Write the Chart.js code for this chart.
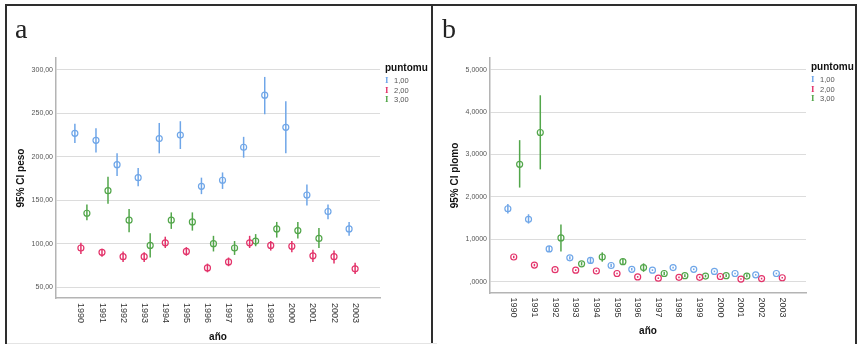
<!DOCTYPE html>
<html>
<head>
<meta charset="utf-8">
<script src="https://cdn.jsdelivr.net/npm/chart.js@4.4.1/dist/chart.umd.min.js"></script>
<style>
body { margin: 0; width: 859px; height: 344px; background: #fff; position: relative; overflow: hidden; font-family: "Liberation Sans", Arial, sans-serif; }
canvas { position: absolute; top: 0; }
#chartA { left: 0; }
#chartB { left: 433px; }
.line { position: absolute; background: #2e2e2e; }
.tag { position: absolute; font-family: "Liberation Serif", serif; font-size: 28px; color: #222; line-height: 28px; }
.legend { position: absolute; font-size: 7.5px; color: #555; }
.legend .head { font-size: 10px; font-weight: bold; color: #111; line-height: 12px; margin-bottom: 2px; }
.legend .item { line-height: 9.7px; padding-left: 9px; position: relative; }
.legend .item b { position: absolute; left: 0; font-family: "Liberation Serif", serif; font-size: 9px; font-weight: bold; }
</style>
</head>
<body>
<canvas id="chartA" width="431" height="344"></canvas>
<canvas id="chartB" width="422" height="344"></canvas>

<div class="line" style="left:5px;top:4px;width:852px;height:2px"></div>
<div class="line" style="left:5px;top:4px;width:2px;height:340px"></div>
<div class="line" style="left:431px;top:4px;width:2px;height:340px"></div>
<div class="line" style="left:855px;top:4px;width:2px;height:340px"></div>
<div class="line" style="left:7px;top:343px;width:430px;height:1px;background:#e4e4e4"></div>

<div class="tag" style="left:15px;top:15px">a</div>
<div class="tag" style="left:442px;top:15px">b</div>

<div class="legend" style="left:385px;top:62px">
  <div class="head">puntomu</div>
  <div class="item"><b style="color:#6fa6e8">I</b>1,00</div>
  <div class="item"><b style="color:#e3336a">I</b>2,00</div>
  <div class="item"><b style="color:#52a64a">I</b>3,00</div>
</div>
<div class="legend" style="left:811px;top:61px">
  <div class="head">puntomu</div>
  <div class="item"><b style="color:#6fa6e8">I</b>1,00</div>
  <div class="item"><b style="color:#e3336a">I</b>2,00</div>
  <div class="item"><b style="color:#52a64a">I</b>3,00</div>
</div>

<script>
// años
var years = [1990, 1991, 1992, 1993, 1994, 1995, 1996, 1997, 1998, 1999, 2000, 2001, 2002, 2003];
var groups = ["1,00", "2,00", "3,00"];
var colors = ["#6fa6e8", "#e3336a", "#52a64a"];

// panel a - peso (media e IC 95%)
var pesoMean1 = [227, 219, 191, 176, 221, 225, 166, 173, 211, 271, 234, 156, 137, 117];
var pesoLow1  = [216, 205, 178, 166, 204, 209, 157, 163, 199, 249, 204, 144, 128, 109];
var pesoHigh1 = [238, 233, 204, 187, 239, 241, 176, 182, 223, 292, 264, 168, 145, 125];
var pesoMean2 = [95, 90, 85, 85, 101, 91, 72, 79, 101, 98, 97, 86, 85, 71];
var pesoLow2  = [88, 85, 79, 79, 95, 86, 67, 74, 95, 92, 90, 79, 77, 65];
var pesoHigh2 = [101, 94, 91, 90, 108, 96, 77, 84, 109, 103, 103, 93, 92, 78];
var pesoMean3 = [135, 161, 127, 98, 127, 125, 100, 95, 103, 117, 115, 106, null, null];
var pesoLow3  = [127, 146, 113, 84, 117, 115, 91, 87, 97, 107, 106, 95, null, null];
var pesoHigh3 = [145, 177, 140, 112, 136, 136, 109, 103, 111, 125, 125, 118, null, null];
var pesoTicks = [50, 100, 150, 200, 250, 300];

// panel b - plomo
var plomoMean1 = [1.72, 1.47, 0.77, 0.56, 0.50, 0.38, 0.29, 0.27, 0.33, 0.29, 0.24, 0.19, 0.16, 0.19];
var plomoLow1  = [1.61, 1.37, 0.70, 0.52, 0.43, 0.34, 0.26, 0.25, 0.31, 0.27, 0.22, 0.17, 0.14, 0.17];
var plomoHigh1 = [1.83, 1.59, 0.84, 0.60, 0.58, 0.42, 0.32, 0.29, 0.35, 0.31, 0.26, 0.21, 0.18, 0.21];
var plomoMean2 = [0.58, 0.39, 0.28, 0.27, 0.25, 0.19, 0.11, 0.08, 0.10, 0.10, 0.12, 0.06, 0.07, 0.09];
var plomoLow2  = [0.55, 0.36, 0.26, 0.25, 0.23, 0.17, 0.09, 0.06, 0.08, 0.08, 0.10, 0.04, 0.05, 0.07];
var plomoHigh2 = [0.61, 0.42, 0.30, 0.29, 0.27, 0.21, 0.13, 0.10, 0.12, 0.12, 0.14, 0.08, 0.09, 0.11];
var plomoMean3 = [2.77, 3.52, 1.03, 0.42, 0.58, 0.47, 0.33, 0.19, 0.14, 0.13, 0.14, 0.13, null, null];
var plomoLow3  = [2.22, 2.65, 0.71, 0.38, 0.47, 0.39, 0.23, 0.15, 0.11, 0.10, 0.11, 0.10, null, null];
var plomoHigh3 = [3.34, 4.40, 1.35, 0.46, 0.69, 0.54, 0.43, 0.23, 0.17, 0.16, 0.17, 0.17, null, null];
var plomoTicks = [0, 1, 2, 3, 4, 5];

// desplazamiento de cada grupo dentro del año
var dodge = [-0.285, 0, 0.285];

function errorBars(lows, highs) {
    return {
        id: 'errorBars',
        afterDatasetsDraw: function(chart) {
            var ctx = chart.ctx;
            var ys = chart.scales.y;
            chart.data.datasets.forEach(function(ds, d) {
                var meta = chart.getDatasetMeta(d);
                meta.data.forEach(function(pt, i) {
                    if (lows[d][i] == null) return;
                    ctx.save();
                    ctx.strokeStyle = ds.borderColor;
                    ctx.lineWidth = 1.5;
                    ctx.beginPath();
                    ctx.moveTo(pt.x, ys.getPixelForValue(lows[d][i]));
                    ctx.lineTo(pt.x, ys.getPixelForValue(highs[d][i]));
                    ctx.stroke();
                    ctx.restore();
                });
            });
        }
    };
}

// etiquetas de año giradas 90 grados (se leen de arriba abajo)
function yearLabels(gap) {
    return {
        id: 'yearLabels',
        afterDraw: function(chart) {
            var ctx = chart.ctx;
            var xs = chart.scales.x;
            ctx.save();
            ctx.fillStyle = '#333';
            ctx.font = '9px "Liberation Sans", Arial, sans-serif';
            ctx.textAlign = 'left';
            ctx.textBaseline = 'middle';
            years.forEach(function(yr, i) {
                ctx.save();
                ctx.translate(xs.getPixelForValue(i), xs.top + gap);
                ctx.rotate(Math.PI / 2);
                ctx.fillText(String(yr), 0, 0);
                ctx.restore();
            });
            ctx.restore();
        }
    };
}

function makeChart(id, p) {
    var datasets = p.means.map(function(m, d) {
        return {
            label: groups[d],
            data: years.map(function(yr, i) { return { x: i + dodge[d], y: m[i] }; }),
            borderColor: colors[d],
            backgroundColor: 'rgba(255,255,255,0)',
            pointRadius: 3,
            pointBorderWidth: 1.2,
            pointStyle: 'circle'
        };
    });
    return new Chart(document.getElementById(id).getContext('2d'), {
        type: 'scatter',
        data: { datasets: datasets },
        options: {
            responsive: false,
            animation: false,
            devicePixelRatio: 1,
            layout: { padding: { top: 58, right: p.padRight, bottom: 0, left: 0 } },
            plugins: { legend: { display: false }, tooltip: { enabled: false } },
            scales: {
                x: {
                    type: 'linear',
                    min: p.xMin,
                    max: p.xMax,
                    grid: { display: false },
                    border: { display: true, color: '#b4b4b4', width: 1.5 },
                    ticks: { display: false },
                    title: {
                        display: true,
                        text: 'año',
                        color: '#111',
                        font: { size: 10, weight: 'bold', family: '"Liberation Sans", Arial' },
                        padding: { top: 0, bottom: p.xTitlePad }
                    },
                    afterFit: function(s) { s.height = p.xHeight; }
                },
                y: {
                    min: p.yMin,
                    max: p.yMax,
                    afterBuildTicks: function(s) {
                        s.ticks = p.yTicks.map(function(v) { return { value: v }; });
                    },
                    grid: { color: '#dcdcdc', lineWidth: 1, drawTicks: false },
                    border: { display: true, color: '#b4b4b4', width: 1.5 },
                    ticks: {
                        callback: p.fmt,
                        color: '#555',
                        padding: 3,
                        font: { size: 7, family: '"Liberation Sans", Arial' }
                    },
                    title: {
                        display: true,
                        text: p.yTitle,
                        color: '#111',
                        font: { size: 10, weight: 'bold', family: '"Liberation Sans", Arial' },
                        padding: { top: p.yTitlePad, bottom: 0 }
                    },
                    afterFit: function(s) { s.width = p.yWidth; }
                }
            }
        },
        plugins: [errorBars(p.lows, p.highs), yearLabels(p.labelGap)]
    });
}

makeChart('chartA', {
    means: [pesoMean1, pesoMean2, pesoMean3],
    lows: [pesoLow1, pesoLow2, pesoLow3],
    highs: [pesoHigh1, pesoHigh2, pesoHigh3],
    yTicks: pesoTicks,
    yMin: 37.4, yMax: 313.8,
    xMin: -1.18, xMax: 14.18,
    yTitle: '95% CI peso',
    fmt: function(v) { return v.toFixed(2).replace('.', ','); },
    padRight: 51, yWidth: 56, xHeight: 46,
    yTitlePad: 15, xTitlePad: 1, labelGap: 5
});

makeChart('chartB', {
    means: [plomoMean1, plomoMean2, plomoMean3],
    lows: [plomoLow1, plomoLow2, plomoLow3],
    highs: [plomoHigh1, plomoHigh2, plomoHigh3],
    yTicks: plomoTicks,
    yMin: -0.27, yMax: 5.28,
    xMin: -1.15, xMax: 14.15,
    yTitle: '95% CI plomo',
    fmt: function(v) { return v === 0 ? ',0000' : v.toFixed(4).replace('.', ','); },
    padRight: 49, yWidth: 57, xHeight: 51,
    yTitlePad: 16, xTitlePad: 7, labelGap: 4.5
});
</script>
</body>
</html>
